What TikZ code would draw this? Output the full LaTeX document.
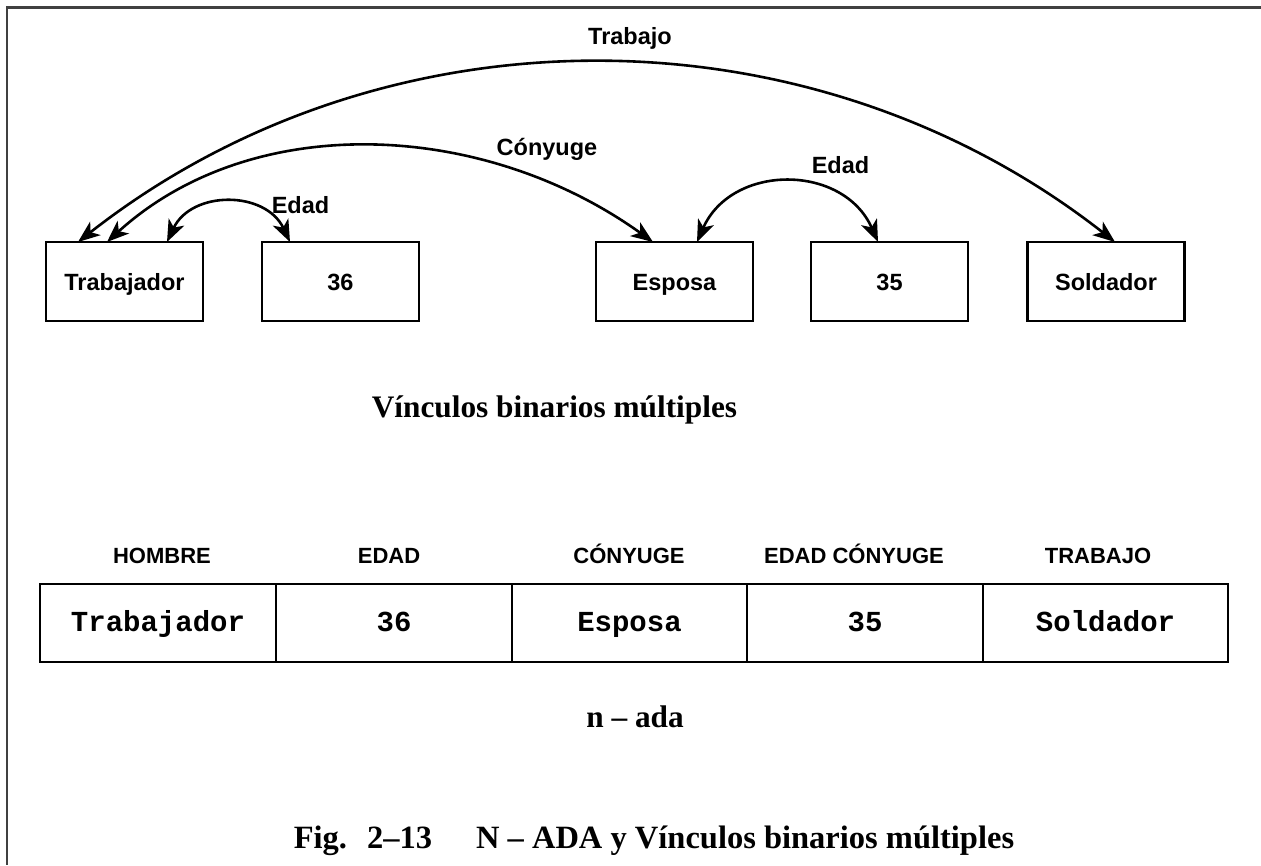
\documentclass[tikz,border=0pt]{standalone}
\usepackage{fontspec}
\usetikzlibrary{arrows.meta}
\newfontfamily\hsans{Liberation Sans}
\newfontfamily\tmono{Liberation Mono}
\newfontfamily\tserif{Liberation Serif}
\begin{document}
\begin{tikzpicture}[x=1pt,y=-1pt,
  ebox/.style={draw, line width=2.2pt, minimum width=157pt, minimum height=79pt,
    inner sep=0pt, outer sep=0pt, text height=17pt, text depth=0pt,
    font=\hsans\bfseries\fontsize{23.5}{28}\selectfont},
  elabel/.style={inner sep=0pt, text height=17pt, text depth=0pt,
    font=\hsans\bfseries\fontsize{23.5}{28}\selectfont},
  relarrow/.style={line width=2.6pt, {Stealth[length=22pt,width=17pt,inset=6pt]}-{Stealth[length=22pt,width=17pt,inset=6pt]}},
  head/.style={inner sep=0pt, anchor=base,
    font=\hsans\bfseries\fontsize{22}{26}\selectfont},
  cell/.style={draw, line width=2pt, minimum height=78pt, inner sep=0pt, outer sep=0pt,
    text height=16pt, text depth=0pt,
    font=\tmono\bfseries\fontsize{29}{34}\selectfont},
  serifbold/.style={inner sep=0pt, anchor=base, font=\tserif\bfseries\fontsize{31.3}{36}\selectfont}
]
\useasboundingbox (0,0) rectangle (1261,865);
\fill[white] (0,0) rectangle (1261,865);

% outer frame (top and left edges)
\draw[line width=2.6pt, black!75] (1261,7.5) -- (7,7.5) -- (7,865);

% entity boxes
\node[ebox] (trab) at (124.5,281.5) {Trabajador};
\node[ebox] (n36)  at (340.5,281.5) {36};
\node[ebox] (esp)  at (674.5,281.5) {Esposa};
\node[ebox] (n35)  at (889.5,281.5) {35};
\node[ebox] (sold) at (1106,281.5)  {Soldador};

% binary links
\draw[relarrow] ([xshift=-46.5pt]trab.north) .. controls +(304.5,-238.7) and +(-304.5,-238.7) .. ([xshift=9pt]sold.north);
\draw[relarrow] ([xshift=-17.5pt]trab.north) .. controls +(145,-132) and +(-170,-122) .. ([xshift=-21.5pt]esp.north);
\draw[relarrow] ([xshift=42.5pt]trab.north) .. controls +(24.5,-51.8) and +(-24.5,-51.8) .. ([xshift=-50.5pt]n36.north);
\draw[relarrow] ([xshift=22.5pt]esp.north) .. controls +(34.7,-78.7) and +(-34.7,-78.7) .. ([xshift=-11.5pt]n35.north);

% link names
\node[elabel] (lTrabajo) at (630,35.5) {Trabajo};
\node[elabel] (lConyuge) at (547,147) {Cónyuge};
\node[elabel] (lEdadA)   at (300.5,205) {Edad};
\node[elabel] (lEdadB)   at (840.5,165) {Edad};

\node[serifbold] (tVinculos) at (554.5,417) {Vínculos binarios múltiples};

% n-ary relation table
\node[head] (h1) at (162,563) {HOMBRE};
\node[head] (h2) at (389,563) {EDAD};
\node[head] (h3) at (629,563) {CÓNYUGE};
\node[head] (h4) at (854,563) {EDAD CÓNYUGE};
\node[head] (h5) at (1098,563) {TRABAJO};

\node[cell, minimum width=236pt] (c1) at (158,623)    {Trabajador};
\node[cell, minimum width=236pt] (c2) at (394,623)    {36};
\node[cell, minimum width=235pt] (c3) at (629.5,623)  {Esposa};
\node[cell, minimum width=236pt] (c4) at (865,623)    {35};
\node[cell, minimum width=245pt] (c5) at (1105.5,623) {Soldador};

\node[serifbold] (tNada) at (635,727) {n – ada};

\node[serifbold, font=\tserif\bfseries\fontsize{32.5}{38}\selectfont] (caption) at (654,848)
  {Fig.\hspace{20pt}2–13\hspace{44pt}N – ADA y Vínculos binarios múltiples};
\end{tikzpicture}
\end{document}
